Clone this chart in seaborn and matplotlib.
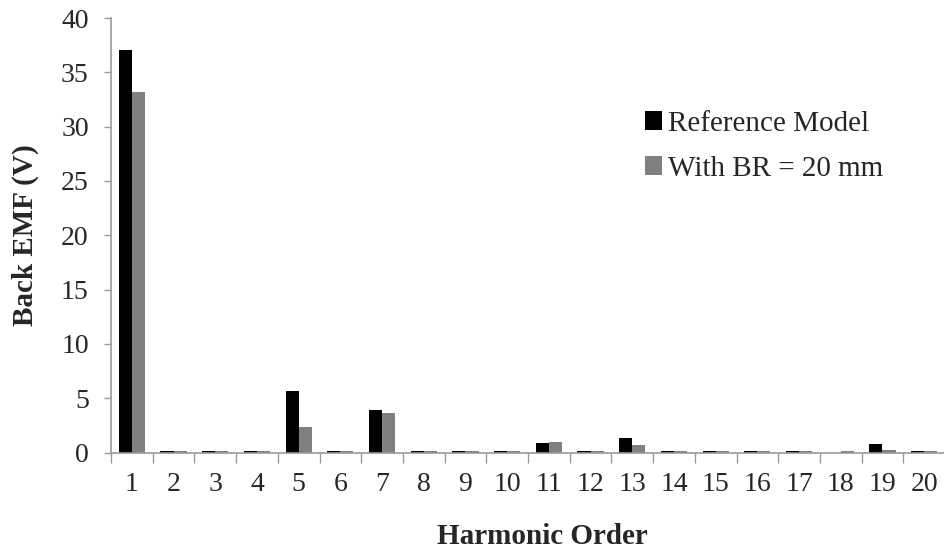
import matplotlib
matplotlib.use("Agg")
import matplotlib.pyplot as plt
import seaborn as sns
import pandas as pd
import numpy as np

harmonics = [str(i) for i in range(1, 21)]
reference_model = [37.1, 0.12, 0.12, 0.12, 5.64, 0.12, 3.92, 0.12, 0.12, 0.12,
                   0.83, 0.12, 1.38, 0.12, 0.12, 0.12, 0.18, 0.0, 0.74, 0.12]
with_br = [33.2, 0.12, 0.12, 0.12, 2.33, 0.12, 3.65, 0.12, 0.12, 0.12,
           0.95, 0.12, 0.67, 0.12, 0.12, 0.12, 0.1, 0.12, 0.24, 0.12]
series_names = ["Reference Model", "With BR = 20 mm"]

df = pd.DataFrame({
    "Harmonic": harmonics * 2,
    "Value": reference_model + with_br,
    "Series": [series_names[0]] * 20 + [series_names[1]] * 20,
})

sns.set_theme(style="white")
plt.rcParams["font.family"] = ["Liberation Serif", "DejaVu Serif"]

W, H = 945, 553
fig = plt.figure(figsize=(W / 100, H / 100), dpi=100)
ax = fig.add_axes([111 / W, 1 - 452.5 / H, 834 / W, 434.5 / H])

sns.barplot(data=df, x="Harmonic", y="Value", hue="Series",
            palette=["#000000", "#808080"], width=0.63, ax=ax,
            saturation=1, edgecolor="none", linewidth=0)

ax.set_xlim(-0.5, 19.5)
ax.set_ylim(0, 40)
ax.set_yticks(np.arange(0, 41, 5))
ax.tick_params(axis="y", labelsize=20, length=5, width=1, color="#999999",
               direction="out", left=True, pad=11)
ax.tick_params(axis="x", which="major", labelsize=20, length=0, pad=14)
ax.set_xticks(np.arange(-0.5, 20, 1), minor=True)
ax.tick_params(axis="x", which="minor", length=7, width=1, color="#999999",
               direction="out", bottom=True)

for s in ["top", "right"]:
    ax.spines[s].set_visible(False)
for s in ["left", "bottom"]:
    ax.spines[s].set_color("#999999")
    ax.spines[s].set_linewidth(1.2)

ax.set_xlabel("Harmonic Order", fontsize=21, fontweight="bold", labelpad=19)
ax.xaxis.label.set_x((542 - 111) / 834)
ax.set_ylabel("Back EMF (V)", fontsize=21, fontweight="bold", labelpad=16)

ax.legend_.remove()
handles, labels = ax.get_legend_handles_labels()
fig.legend(handles, labels, loc="upper left", bbox_to_anchor=(645 / W, 1 - 111 / H),
           frameon=False, fontsize=21, handlelength=0.6, handleheight=0.6,
           handletextpad=0.2, labelspacing=0.64, borderpad=0, borderaxespad=0)

fig.savefig("out.png", dpi=100)
